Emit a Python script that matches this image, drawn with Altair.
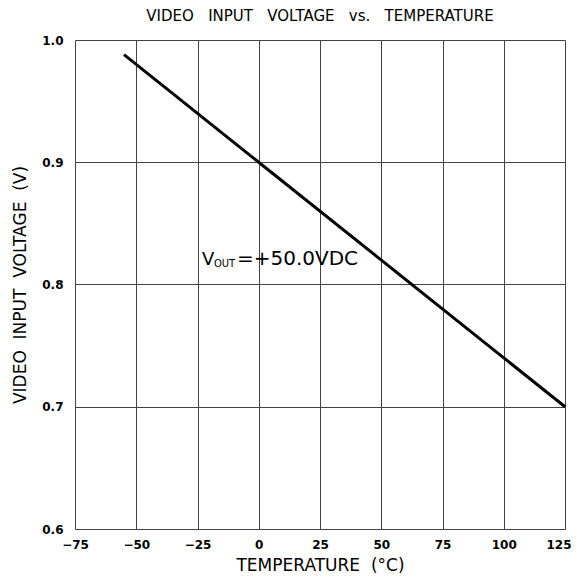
import altair as alt
import pandas as pd

temps = [-55, 125]
volts = [0.988, 0.700]
x_ticks = [-75, -50, -25, 0, 25, 50, 75, 100, 125]
y_ticks = [0.6, 0.7, 0.8, 0.9, 1.0]

line_df = pd.DataFrame({"t": temps, "v": volts})

FONT = "DejaVu Sans"
GAP = " \u00a0"
GAP3 = " \u00a0\u00a0"

x_enc = alt.X("t:Q", scale=alt.Scale(domain=[-75, 125], nice=False),
              axis=alt.Axis(values=x_ticks, title="TEMPERATURE" + GAP + "(°C)", grid=True,
                            gridColor="#444444", gridWidth=1, gridOpacity=1,
                            ticks=False, domain=False, labelPadding=10,
                            labelAlign={"condition": {"test": "datum.value >= 125", "value": "right"},
                                        "value": "center"},
                            labelOffset={"condition": {"test": "datum.value >= 125", "value": 6},
                                         "value": 0},
                            labelFont=FONT, labelFontSize=12, labelFontWeight="bold",
                            labelColor="black", titleFont=FONT, titleFontSize=17,
                            titleFontWeight="normal", titleColor="black", titlePadding=7,
                            labelFlush=False))
y_enc = alt.Y("v:Q", scale=alt.Scale(domain=[0.6, 1.0], nice=False),
              axis=alt.Axis(values=y_ticks, format=".1f",
                            title="VIDEO" + GAP + "INPUT" + GAP + "VOLTAGE" + GAP + "(V)",
                            grid=True, gridColor="#444444", gridWidth=1, gridOpacity=1,
                            ticks=False, domain=False, labelPadding=12,
                            labelFont=FONT, labelFontSize=12, labelFontWeight="bold",
                            labelColor="black", titleFont=FONT, titleFontSize=17,
                            titleFontWeight="normal", titleColor="black", titlePadding=12,
                            labelFlush=False))

line = alt.Chart(line_df).mark_line(color="black", strokeWidth=3).encode(x=x_enc, y=y_enc)

ann_v = pd.DataFrame({"t": [-23.2], "v": [0.816], "txt": ["V"]})
ann_sub = pd.DataFrame({"t": [-18.3], "v": [0.8143], "txt": ["OUT"]})
ann_rest = pd.DataFrame({"t": [-8.9], "v": [0.816], "txt": ["=+50.0VDC"]})

t1 = alt.Chart(ann_v).mark_text(align="left", baseline="alphabetic", font=FONT, fontSize=18,
                                color="black").encode(x="t:Q", y="v:Q", text="txt:N")
t2 = alt.Chart(ann_sub).mark_text(align="left", baseline="alphabetic", font=FONT, fontSize=10,
                                  color="black").encode(x="t:Q", y="v:Q", text="txt:N")
t3 = alt.Chart(ann_rest).mark_text(align="left", baseline="alphabetic", font=FONT, fontSize=20,
                                   color="black").encode(x="t:Q", y="v:Q", text="txt:N")

title_text = "VIDEO" + GAP3 + "INPUT" + GAP3 + "VOLTAGE" + GAP3 + "vs." + GAP3 + "TEMPERATURE"

chart = alt.layer(line, t1, t2, t3).properties(
    width=490, height=489,
    title=alt.TitleParams(title_text, font=FONT, fontSize=15,
                          fontWeight="normal", color="black", offset=10, frame="group",
                          anchor="middle"),
    autosize=alt.AutoSizeParams(type="none"),
    padding={"left": 67, "top": 32, "right": 6, "bottom": 50},
).configure_view(stroke="black", strokeWidth=1.5).configure(background="white")

chart.save("out.html", embed_options={"renderer": "svg", "actions": False})
